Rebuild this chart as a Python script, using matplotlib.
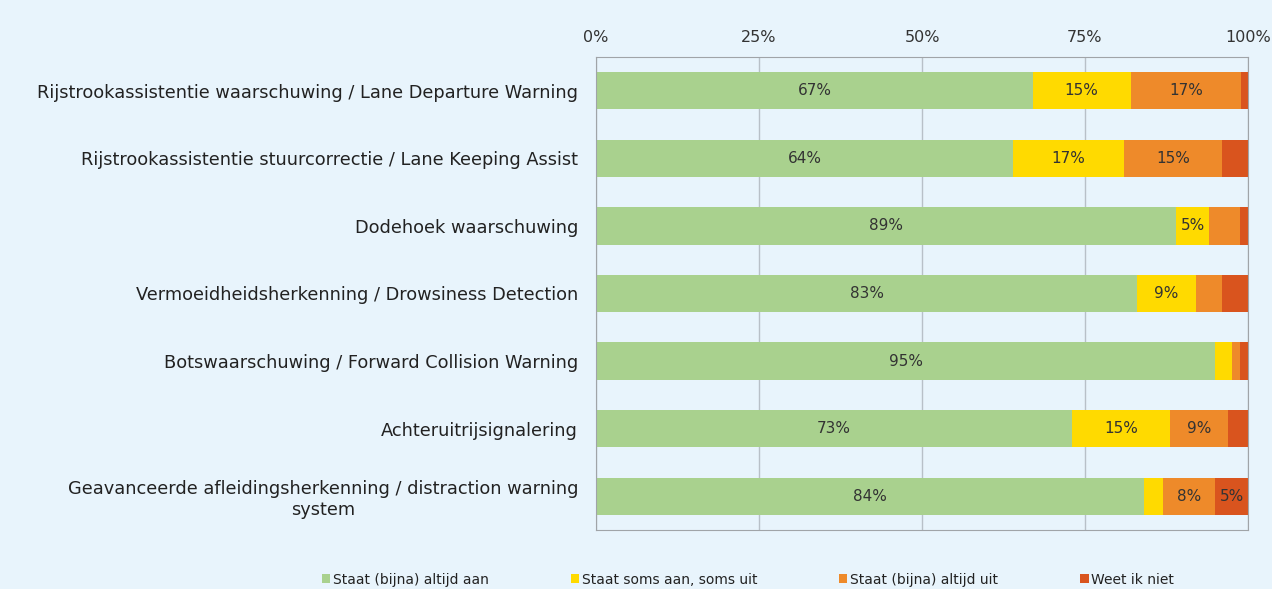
import numpy as np
import matplotlib
matplotlib.use('Agg')
import matplotlib.pyplot as plt

# categorieen en percentages
categories = [
    'Rijstrookassistentie waarschuwing / Lane Departure Warning',
    'Rijstrookassistentie stuurcorrectie / Lane Keeping Assist',
    'Dodehoek waarschuwing',
    'Vermoeidheidsherkenning / Drowsiness Detection',
    'Botswaarschuwing / Forward Collision Warning',
    'Achteruitrijsignalering',
    'Geavanceerde afleidingsherkenning / distraction warning\nsystem',
]
altijd_aan = [67, 64, 89, 83, 95, 73, 84]
soms = [15, 17, 5, 9, 2.5, 15, 3]
altijd_uit = [17, 15, 4.8, 4, 1.3, 9, 8]
weet_niet = [1, 4, 1.2, 4, 1.2, 3, 5]

series_names = ['Staat (bijna) altijd aan', 'Staat soms aan, soms uit',
                'Staat (bijna) altijd uit', 'Weet ik niet']
colors = ['#A9D18E', '#FFDA00', '#EE8A2A', '#D9541E']
bg = '#E8F4FC'

fig = plt.figure(figsize=(12.72, 5.89), dpi=100, facecolor=bg)
ax = fig.add_axes([0.4686, 0.1002, 0.5125, 0.803])
ax.set_facecolor(bg)

y = np.arange(len(categories))
left = np.zeros(len(categories))
for vals, name, col in zip([altijd_aan, soms, altijd_uit, weet_niet], series_names, colors):
    vals = np.array(vals, dtype=float)
    ax.barh(y, vals, left=left, height=0.55, color=col, label=name, zorder=2)
    for yi, l, v in zip(y, left, vals):
        if v >= 5:
            ax.text(l + v / 2, yi, f'{v:.0f}%', ha='center', va='center',
                    fontsize=11, color='#333333', zorder=3)
    left += vals

ax.set_xlim(0, 100)
ax.set_ylim(len(categories) - 0.5, -0.5)
ax.set_xticks([0, 25, 50, 75, 100])
ax.set_xticklabels(['0%', '25%', '50%', '75%', '100%'], fontsize=11.5, color='#333333')
ax.xaxis.tick_top()
ax.tick_params(axis='x', length=0, pad=9)
ax.set_yticks(y)
ax.set_yticklabels(categories, fontsize=12.8, color='#222222', multialignment='center')
ax.tick_params(axis='y', length=0, pad=13)
ax.grid(axis='x', color='#B8C0C8', linewidth=1, zorder=0)
for s in ax.spines.values():
    s.set_color('#A0A4A8')

fig.legend(loc='lower center', bbox_to_anchor=(0.588, -0.017), ncol=4, frameon=False,
           fontsize=10, handlelength=0.6, handleheight=0.6, handletextpad=0.2,
           columnspacing=5.9, labelcolor='#222222')

fig.savefig('out.png', dpi=100, facecolor=bg)
